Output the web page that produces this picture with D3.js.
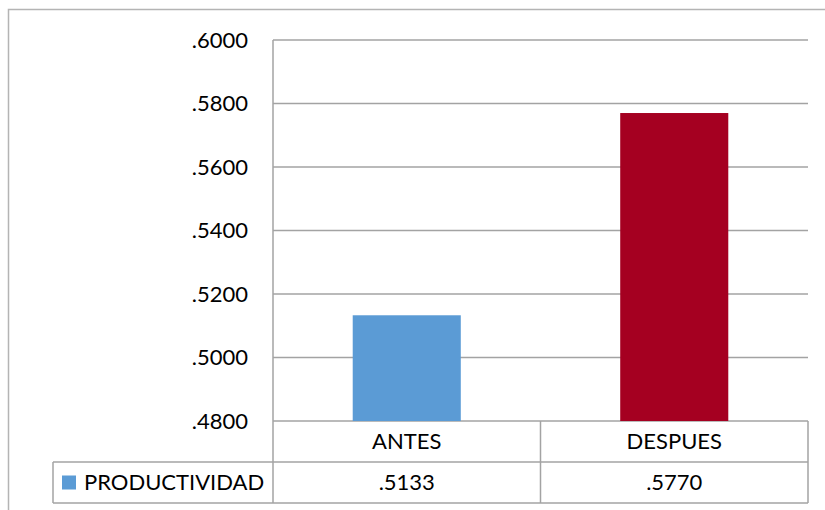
<!DOCTYPE html>
<meta charset="utf-8">
<title>Productividad antes / despues</title>
<script src="https://d3js.org/d3.v7.min.js"></script>
<style>
  body { margin: 0; background: white; }
  text { font-family: Lato, "Open Sans", sans-serif; fill: #000; }
</style>
<body>
<svg class="chart"></svg>
<script>
  var categories = ["ANTES", "DESPUES"];
  var values = [0.5133, 0.5770];
  var colors = ["#5b9bd5", "#a50021"];
  var seriesName = "PRODUCTIVIDAD";
  var ticks = [0.48, 0.50, 0.52, 0.54, 0.56, 0.58, 0.60];

  var width = 825, height = 510;
  var plotLeft = 273, plotRight = 808, plotTop = 40, plotBase = 421;
  var rowH = 41, legendLeft = 53;
  var grid = "#a3a3a3";
  var fontSize = 22;

  var svg = d3.select(".chart")
    .attr("width", width)
    .attr("height", height);

  // outer chart border
  svg.append("rect")
    .attr("x", 8.5).attr("y", 9.5)
    .attr("width", width).attr("height", height)
    .attr("fill", "none")
    .attr("stroke", "#b4b4b4")
    .attr("stroke-width", 1.5);

  var y = d3.scaleLinear()
    .domain([0.48, 0.60])
    .range([plotBase, plotTop]);

  var x = d3.scaleBand()
    .domain(categories)
    .range([plotLeft, plotRight]);

  var fmt = function(d) { return d3.format(".4f")(d).replace(/^0/, ""); };

  // gridlines
  svg.append("g")
    .selectAll("line")
    .data(ticks)
    .enter().append("line")
      .attr("x1", plotLeft).attr("x2", plotRight)
      .attr("y1", function(d) { return y(d); })
      .attr("y2", function(d) { return y(d); })
      .attr("stroke", grid)
      .attr("stroke-width", 1.5);

  // tick labels
  svg.append("g")
    .selectAll("text")
    .data(ticks)
    .enter().append("text")
      .attr("x", plotLeft - 25)
      .attr("y", function(d) { return y(d); })
      .attr("dy", "0.35em")
      .attr("text-anchor", "end")
      .style("font-size", fontSize + "px")
      .text(fmt);

  // bars
  var barW = x.bandwidth() * 0.404;
  svg.append("g")
    .selectAll("rect")
    .data(values)
    .enter().append("rect")
      .attr("x", function(d, i) { return x(categories[i]) + (x.bandwidth() - barW) / 2; })
      .attr("y", function(d) { return y(d); })
      .attr("width", barW)
      .attr("height", function(d) { return y(0.48) - y(d); })
      .attr("fill", function(d, i) { return colors[i]; });

  // data table lines
  var table = svg.append("g").attr("stroke", grid).attr("stroke-width", 1.5);
  table.append("line")
    .attr("x1", plotLeft).attr("x2", plotLeft)
    .attr("y1", plotTop).attr("y2", plotBase + 2 * rowH);
  categories.forEach(function(c) {
    table.append("line")
      .attr("x1", x(c) + x.bandwidth()).attr("x2", x(c) + x.bandwidth())
      .attr("y1", plotBase).attr("y2", plotBase + 2 * rowH);
  });
  table.append("line")
    .attr("x1", legendLeft).attr("x2", legendLeft)
    .attr("y1", plotBase + rowH).attr("y2", plotBase + 2 * rowH);
  [1, 2].forEach(function(r) {
    table.append("line")
      .attr("x1", legendLeft).attr("x2", plotRight)
      .attr("y1", plotBase + r * rowH).attr("y2", plotBase + r * rowH);
  });

  // category labels
  svg.append("g")
    .selectAll("text")
    .data(categories)
    .enter().append("text")
      .attr("x", function(d) { return x(d) + x.bandwidth() / 2; })
      .attr("y", plotBase + rowH / 2)
      .attr("dy", "0.35em")
      .attr("text-anchor", "middle")
      .style("font-size", fontSize + "px")
      .text(function(d) { return d; });

  // value row
  svg.append("g")
    .selectAll("text")
    .data(values)
    .enter().append("text")
      .attr("x", function(d, i) { return x(categories[i]) + x.bandwidth() / 2; })
      .attr("y", plotBase + rowH * 1.5)
      .attr("dy", "0.35em")
      .attr("text-anchor", "middle")
      .style("font-size", fontSize + "px")
      .text(fmt);

  // legend key
  svg.append("rect")
    .attr("x", 62).attr("y", plotBase + rowH * 1.5 - 7)
    .attr("width", 14).attr("height", 14)
    .attr("fill", colors[0]);
  svg.append("text")
    .attr("x", 84)
    .attr("y", plotBase + rowH * 1.5)
    .attr("dy", "0.35em")
    .style("font-size", fontSize + "px")
    .text(seriesName);
</script>
</body>
